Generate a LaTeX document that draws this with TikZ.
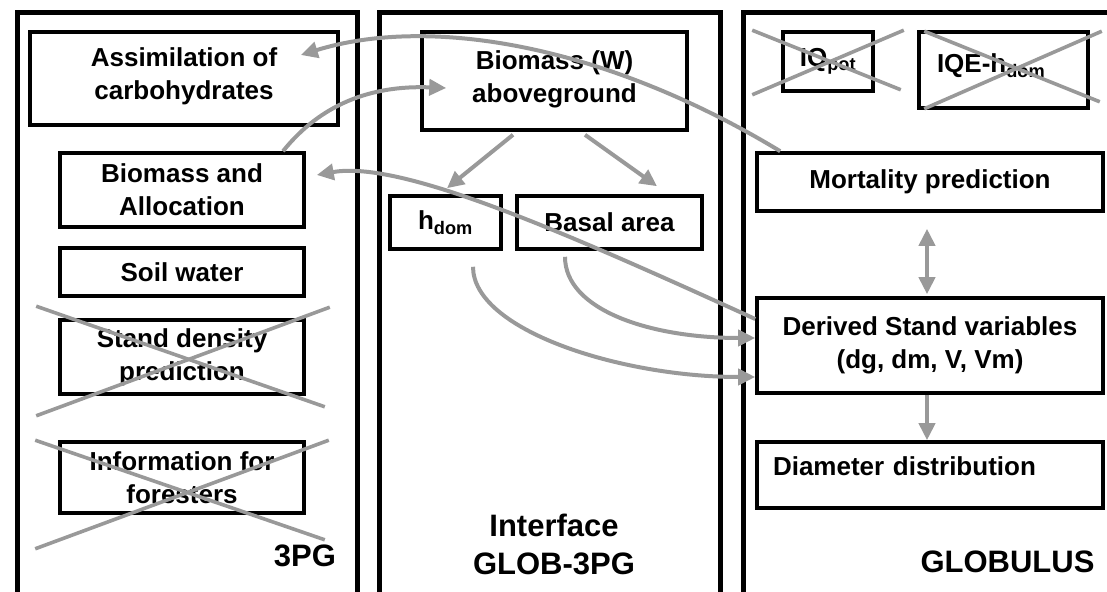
\documentclass[tikz,border=0pt]{standalone}
\usepackage{fontspec}
\setmainfont{Liberation Sans}
\usetikzlibrary{arrows.meta,calc}
\definecolor{linkgray}{RGB}{153,153,153}

\begin{document}
\begin{tikzpicture}[
  x=1pt, y=-1pt,
  panel/.style={draw, line width=5pt, inner sep=0pt, minimum height=620pt, anchor=north west},
  box/.style={draw, line width=3.6pt, inner sep=0pt, align=center, font=\fontsize{26}{33}\selectfont\bfseries},
  title/.style={inner sep=0pt, align=center, anchor=south, font=\fontsize{31}{38}\selectfont\bfseries},
  cross/.style={linkgray, line width=3.6pt},
  arrow/.style={-{Triangle[length=17pt, width=16pt]}, linkgray, line width=4pt},
  twoway/.style={{Triangle[length=17pt, width=16pt]}-{Triangle[length=17pt, width=16pt]}, linkgray, line width=4pt}
]
  \clip (0, 0) rectangle (1107, 591);

  % Panels
  \node[panel, minimum width=340pt] (p3pg) at (14.5, 10.5) {};
  \node[panel, minimum width=341pt] (pinter) at (376.5, 10.5) {};
  \node[panel, minimum width=400pt] (pglob) at (740.5, 10.5) {};
  \node[title] (t3pg) at (305, 567.5) {3PG};
  \node[title] (tinter) at (554, 575.5) {Interface\\GLOB-3PG};
  \node[title] (tglob) at (1007.5, 572.5) {GLOBULUS};

  % 3PG boxes
  \node[box, minimum width=308pt, minimum height=93pt, text depth=10pt] (assim) at (184, 78.5) {Assimilation of\\carbohydrates};
  \node[box, minimum width=244pt, minimum height=74pt] (bioal) at (182, 190) {Biomass and\\Allocation};
  \node[box, minimum width=244pt, minimum height=48pt] (soil) at (182, 272) {Soil water};
  \node[box, minimum width=244pt, minimum height=74pt] (sdens) at (182, 357) {Stand density\\prediction};
  \node[box, minimum width=244pt, minimum height=71pt] (info) at (182, 477.5) {Information for\\foresters};

  % Interface boxes
  \node[box, minimum width=265pt, minimum height=98pt, text depth=8pt] (biow) at (554.5, 81) {Biomass (W)\\aboveground};
  \node[box, minimum width=111pt, minimum height=53pt] (hdom) at (445.5, 222.5) {h\textsubscript{dom}};
  \node[box, minimum width=185pt, minimum height=53pt] (basal) at (609.5, 222.5) {Basal area};

  % GLOBULUS boxes
  \node[box, minimum width=90pt, minimum height=59pt] (iqpot) at (828, 61.5) {IQ\textsubscript{pot}};
  \node[box, minimum width=169pt, minimum height=76pt, text width=133pt, align=left, text depth=14pt] (iqe) at (1003.5, 70) {IQE-h\textsubscript{dom}};
  \node[box, minimum width=346pt, minimum height=58pt] (mort) at (930, 182) {Mortality prediction};
  \node[box, minimum width=346pt, minimum height=95pt] (derived) at (930, 345.5) {Derived Stand variables\\(dg, dm, V, Vm)};
  \node[box, minimum width=346pt, minimum height=66pt, text width=314pt, align=left, text depth=17pt] (diam) at (930, 475) {Diameter distribution};

  % Crossed out
  \draw[cross] ($(iqpot.north west)+(-29,0)$) -- ($(iqpot.south east)+(26,-3)$);
  \draw[cross] ($(iqpot.south west)+(-29,2)$) -- ($(iqpot.north east)+(29,0)$);
  \draw[cross] ($(iqe.north west)+(7,1)$) -- ($(iqe.south east)+(10,-8)$);
  \draw[cross] ($(iqe.south west)+(7,-1)$) -- ($(iqe.north east)+(12,1)$);
  \draw[cross] ($(sdens.north west)+(-22,-12)$) -- ($(sdens.south east)+(19,11)$);
  \draw[cross] ($(sdens.south west)+(-22,20)$) -- ($(sdens.north east)+(24,-11)$);
  \draw[cross] ($(info.north west)+(-23,0)$) -- ($(info.south east)+(19,25)$);
  \draw[cross] ($(info.south west)+(-23,34)$) -- ($(info.north east)+(23,0)$);

  % Arrows
  \draw[arrow] ($(mort.north west)+(25,0)$) .. controls (605,45) and (430,15) .. ($(assim.east)+(-39,-23.5)$);
  \draw[arrow] ($(bioal.north)+(101,0)$) .. controls (320,105) and (370,85) .. ($(biow.west)+(26,7)$);
  \draw[arrow] ($(derived.west)+(0,-26.5)$) .. controls (560,230) and (400,160) .. ($(bioal.east)+(11,-15)$);
  \draw[arrow] ($(biow.south)+(-41.5,3)$) -- ($(hdom.north)+(1.5,-6)$);
  \draw[arrow] ($(biow.south)+(30.5,3)$) -- ($(basal.north)+(47.5,-8)$);
  \draw[arrow] ($(hdom.south)+(27.5,16)$) .. controls (473,330) and (620,377) .. ($(derived.west)+(0,31.5)$);
  \draw[arrow] ($(basal.south)+(-44.5,6)$) .. controls (565,310) and (650,338) .. ($(derived.west)+(0,-7.5)$);
  \draw[twoway] ($(mort.south)+(-3,16)$) -- ($(derived.north)+(-3,-2)$);
  \draw[arrow] ($(derived.south)+(-3,0)$) -- ($(diam.north)+(-3,0)$);
\end{tikzpicture}
\end{document}
